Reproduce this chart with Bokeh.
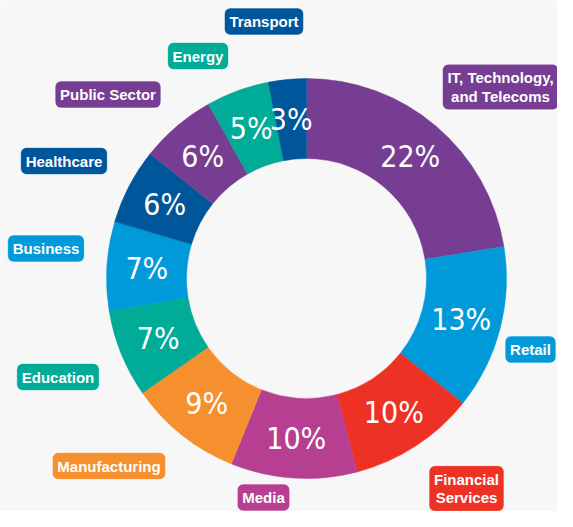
import math
from bokeh.plotting import figure
from bokeh.models import Range1d, Label, ColumnDataSource
from bokeh.core.properties import value
from bokeh.embed import file_html
from bokeh.resources import INLINE

# ---- data ----
categories = ["IT, Technology,\nand Telecoms", "Retail", "Financial\nServices", "Media",
              "Manufacturing", "Education", "Business", "Healthcare",
              "Public Sector", "Energy", "Transport"]
values = [22, 13, 10, 10, 9, 7, 7, 6, 6, 5, 3]
colors = ["#763D93", "#009ADA", "#EE3125", "#B73F92", "#F68F2E", "#00AB97",
          "#009ADA", "#00569A", "#763D93", "#00AB97", "#00569A"]

# label box centres (pixel layout, from top-left)
label_pos = [(500, 86.5), (530, 349), (466, 488), (263, 497), (108.5, 465.5),
             (57.5, 376.5), (45.5, 248), (63.5, 160.5), (107.5, 94),
             (197.5, 55.5), (263.5, 21)]

W, H = 557, 511
REF_H = 527
p = figure(width=W, height=H, output_backend="svg", toolbar_location=None,
           x_range=Range1d(0, W), y_range=Range1d(REF_H - H, REF_H),
           min_border=0)
p.axis.visible = False
p.grid.visible = False
p.outline_line_color = None
p.background_fill_color = "#F7F7F7"
p.border_fill_color = "#F7F7F7"

cx, cy = 306, REF_H - 278
r_in, r_out = 120, 200
total = sum(values)

starts, ends, mids = [], [], []
c = 0
for v in values:
    a0 = math.pi / 2 - 2 * math.pi * c / total
    a1 = math.pi / 2 - 2 * math.pi * (c + v) / total
    starts.append(a0)
    ends.append(a1)
    mids.append((a0 + a1) / 2)
    c += v

src = ColumnDataSource(dict(start=starts, end=ends, color=colors))
p.annular_wedge(x=cx, y=cy, inner_radius=r_in, outer_radius=r_out,
                start_angle="start", end_angle="end", direction="clock",
                fill_color="color", line_color="color", line_width=0.5, source=src)

r_mid = (r_in + r_out) / 2
tsrc = ColumnDataSource(dict(
    x=[cx + r_mid * math.cos(m) for m in mids],
    y=[cy + r_mid * math.sin(m) for m in mids],
    t=[f"{v}%" for v in values]))
p.text(x="x", y="y", text="t", source=tsrc, text_color="white",
       text_font=value("'DejaVu Sans Condensed', 'Liberation Sans Narrow', 'Roboto', sans-serif"),
       text_font_size="30px",
       text_align="center", text_baseline="middle")

for cat, col, (lx, ly) in zip(categories, colors, label_pos):
    p.add_layout(Label(x=lx, y=REF_H - ly, text=cat, text_color="white",
                       text_font="Liberation Sans", text_font_style="bold",
                       text_font_size="15px", text_align="center",
                       text_baseline="middle", text_line_height=1.1,
                       background_fill_color=col, border_line_color="white",
                       border_line_alpha=0.6, border_line_width=1,
                       padding=5, border_radius=6))

open("out.html", "w").write(file_html(p, INLINE))
